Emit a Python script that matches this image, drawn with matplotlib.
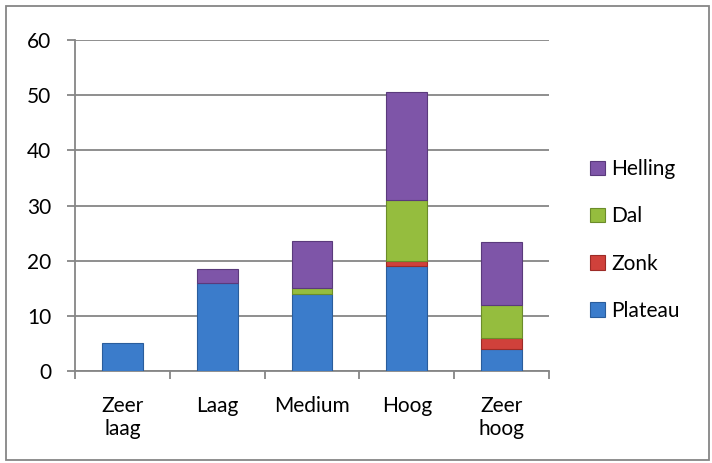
import numpy as np
import matplotlib.pyplot as plt
from matplotlib.patches import Rectangle

plt.rcParams['font.family'] = ['Lato', 'DejaVu Sans']

categories = ['Zeer\nlaag', 'Laag', 'Medium', 'Hoog', 'Zeer\nhoog']
plateau = [5, 16, 14, 19, 4]
zonk = [0, 0, 0, 1, 2]
dal = [0, 0, 1, 11, 6]
helling = [0, 2.4, 8.5, 19.5, 11.3]

series = [('Plateau', plateau, '#3b7ccb', '#2a5d9c'),
          ('Zonk', zonk, '#d0413b', '#9c2b27'),
          ('Dal', dal, '#95bd3e', '#6b8c2a'),
          ('Helling', helling, '#7e55a8', '#5a3a7c')]

fig = plt.figure(figsize=(7.12, 4.63), dpi=100)
ax = fig.add_axes([75 / 712, 92 / 463, 474 / 712, 331 / 463])

x = np.arange(len(categories))
bottom = np.zeros(len(categories))
handles = []
for name, vals, col, edge in series:
    vals = np.array(vals, dtype=float)
    b = ax.bar(x, vals, 0.43, bottom=bottom, color=col, edgecolor=edge,
               linewidth=0.8, label=name, zorder=3)
    # no outline on empty segments
    for r, v in zip(b.patches, vals):
        if v == 0:
            r.set_linewidth(0)
    handles.append(Rectangle((0, 0), 1, 1, facecolor=col, edgecolor=edge,
                             linewidth=0.8))
    bottom += vals

ax.set_xlim(-0.5, len(categories) - 0.5)
ax.set_ylim(0, 60)
ax.set_yticks(np.arange(0, 61, 10))
ax.yaxis.grid(True, color='#868686', linewidth=1.3, zorder=0)
ax.set_axisbelow(True)

grey = '#868686'
for s in ['top', 'right']:
    ax.spines[s].set_visible(False)
for s in ['left', 'bottom']:
    ax.spines[s].set_color(grey)
    ax.spines[s].set_linewidth(1.3)

ax.tick_params(axis='y', length=6, width=1.3, color=grey, pad=11, labelsize=15)
ax.set_xticks(x)
ax.set_xticklabels(categories, fontsize=15, linespacing=1.2)
ax.tick_params(axis='x', which='major', length=0, pad=18)
ax.set_xticks(np.arange(-0.5, len(categories), 1), minor=True)
ax.tick_params(axis='x', which='minor', length=6, width=1.3, color=grey)

names = [s[0] for s in series]
leg = fig.legend(handles[::-1], names[::-1],
                 loc='center left', bbox_to_anchor=(582 / 712, 1 - 240 / 463),
                 frameon=False, fontsize=15, handlelength=0.7, handleheight=0.7,
                 handletextpad=0.3, labelspacing=1.3, borderaxespad=0)

fig.patches.append(Rectangle((6 / 712, 3 / 463), 703 / 712, 454 / 463,
                             transform=fig.transFigure, fill=False,
                             edgecolor=grey, linewidth=1.3))

fig.savefig('out.png', dpi=100)
